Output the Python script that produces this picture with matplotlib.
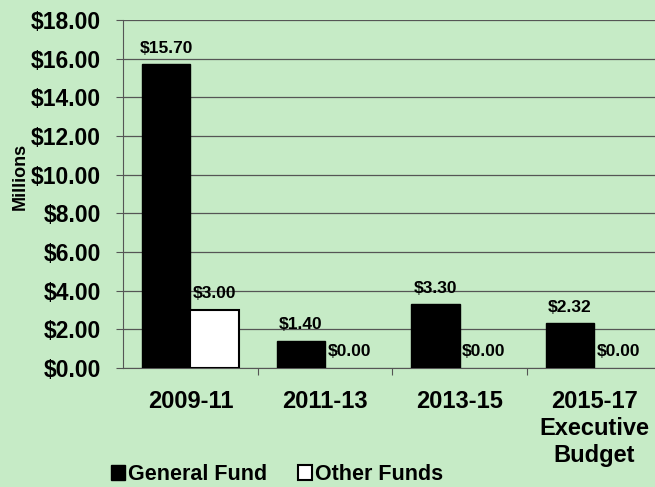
import numpy as np
import matplotlib.pyplot as plt
from matplotlib.patches import Patch

plt.rcParams['font.family'] = ['Liberation Sans', 'DejaVu Sans']
plt.rcParams['font.weight'] = 'bold'

categories = ['2009-11', '2011-13', '2013-15', '2015-17\nExecutive\nBudget']
general_fund = [15.70, 1.40, 3.30, 2.32]
other_funds = [3.00, 0.00, 0.00, 0.00]
yticks = [0, 2, 4, 6, 8, 10, 12, 14, 16, 18]

bg = '#c6ebc6'

fig = plt.figure(figsize=(6.55, 4.87), dpi=100, facecolor=bg)
ax = fig.add_axes([0.188, 0.244, 0.822, 0.715], facecolor=bg)

x = np.arange(len(categories))
w = 0.36
ax.bar(x - w / 2, general_fund, w, color='black', edgecolor='black', zorder=3)
ax.bar(x + w / 2, other_funds, w, color='white', edgecolor='black',
       linewidth=[1.5 if v > 0 else 0 for v in other_funds], zorder=3)

for xi, v in zip(x - w / 2, general_fund):
    ax.text(xi, v + 0.45, '$%.2f' % v, ha='center', va='bottom', fontsize=12.5, fontweight='bold')
for xi, v in zip(x + w / 2, other_funds):
    ax.text(xi, v + 0.45, '$%.2f' % v, ha='center', va='bottom', fontsize=12.5, fontweight='bold')

ax.set_xlim(-0.5, len(categories) - 0.5)
ax.set_ylim(0, 18)
ax.set_yticks(yticks)
ax.set_yticklabels(['$%.2f' % t for t in yticks], fontsize=16.5, fontweight='bold')
ax.yaxis.grid(True, color='#555555', linewidth=0.9, zorder=0)

ax.set_xticks(np.arange(0.5, len(categories) - 0.5), minor=False)
ax.set_xticklabels([])
ax.set_xticks(x, minor=True)
ax.set_xticklabels(categories, minor=True, fontsize=17, fontweight='bold', linespacing=1.2)
ax.tick_params(axis='x', which='minor', length=0, pad=16)
ax.tick_params(axis='x', which='major', length=5, color='#555555', direction='out')
ax.tick_params(axis='y', length=5, color='#555555', direction='out', pad=11)

for s in ['top', 'right']:
    ax.spines[s].set_visible(False)
ax.spines['left'].set_color('#555555')
ax.spines['bottom'].set_color('#555555')

ax.set_ylabel('Millions', fontsize=13, fontweight='bold')
ax.yaxis.set_label_coords(-0.176, 0.55)

handles = [Patch(facecolor='black', edgecolor='black'),
           Patch(facecolor='white', edgecolor='black', linewidth=1.5)]
fig.legend(handles, ['General Fund', 'Other Funds'], loc='lower left',
           bbox_to_anchor=(0.14, -0.036), ncol=2, frameon=False,
           prop={'size': 15.5, 'weight': 'bold'}, handlelength=0.65, handleheight=0.65,
           handletextpad=0.15, columnspacing=1.4)

fig.savefig('out.png', dpi=100, facecolor=bg)
